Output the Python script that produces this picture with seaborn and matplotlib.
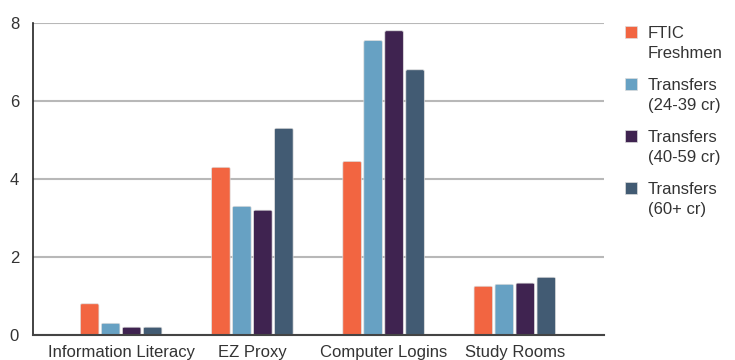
import matplotlib
matplotlib.use("Agg")
import matplotlib.pyplot as plt
from matplotlib.patches import FancyBboxPatch, Rectangle
import seaborn as sns
import pandas as pd

categories = ["Information Literacy", "EZ Proxy", "Computer Logins", "Study Rooms"]
series = ["FTIC\nFreshmen", "Transfers\n(24-39 cr)", "Transfers\n(40-59 cr)", "Transfers\n(60+ cr)"]
ftic = [0.8, 4.3, 4.45, 1.25]
t24_39 = [0.3, 3.3, 7.55, 1.3]
t40_59 = [0.2, 3.2, 7.8, 1.33]
t60 = [0.2, 5.3, 6.8, 1.48]
colors = ["#F26541", "#67A1C3", "#3F2350", "#425B73"]
yticks = [0, 2, 4, 6, 8]

rows = []
for s, vals in zip(series, [ftic, t24_39, t40_59, t60]):
    for c, v in zip(categories, vals):
        rows.append({"category": c, "series": s, "value": v})
df = pd.DataFrame(rows)

sns.set_theme(style="white")
plt.rcParams["font.family"] = ["Liberation Sans", "DejaVu Sans"]

W, H = 735, 360
fig = plt.figure(figsize=(W / 100, H / 100), dpi=100)
ax = fig.add_axes([33/W, 1 - 335/H, (604-33)/W, (335-23)/H])

sns.barplot(data=df, x="category", y="value", hue="series", order=categories,
            hue_order=series, palette=colors, width=0.64, gap=0.12,
            saturation=1, edgecolor="none", ax=ax, legend=False)

ax.set_xlim(-0.672, 3.68)
ax.set_ylim(0, 8)

# round the bar corners slightly
for p in list(ax.patches):
    x, y = p.get_x(), p.get_y()
    w, h = p.get_width(), p.get_height()
    fb = FancyBboxPatch((x, y), w, h,
                        boxstyle="round,pad=0,rounding_size=0.012",
                        mutation_aspect=3.36,
                        facecolor=p.get_facecolor(), edgecolor="#dddddd",
                        linewidth=0.5, zorder=p.get_zorder())
    p.set_visible(False)
    ax.add_patch(fb)

ax.set_yticks(yticks)
ax.yaxis.grid(True, color="#b8b8b8", linewidth=1.5)
ax.set_axisbelow(True)
ax.set_xlabel("")
ax.set_ylabel("")
for side in ["top", "right"]:
    ax.spines[side].set_visible(False)
ax.spines["left"].set_color("#222222")
ax.spines["left"].set_linewidth(1.2)
ax.spines["bottom"].set_color("#444444")
ax.spines["bottom"].set_linewidth(1.5)
ax.spines["bottom"].set_zorder(5)
ax.tick_params(axis="both", length=0, labelsize=12, labelcolor="#333333")
ax.tick_params(axis="y", pad=10)
ax.tick_params(axis="x", pad=7)

# legend drawn manually so the swatch lines up with the first text line
for i, (s, c) in enumerate(zip(series, colors)):
    top = 26 + 52 * i
    fig.add_artist(Rectangle((625/W, 1 - (top + 12)/H), 12/W, 12/H,
                             transform=fig.transFigure, facecolor=c,
                             edgecolor="#dddddd", linewidth=0.5))
    fig.text(648/W, 1 - top/H, s, transform=fig.transFigure,
             ha="left", va="top", fontsize=12, color="#333333",
             linespacing=1.38)

fig.savefig("out.png", dpi=100)
